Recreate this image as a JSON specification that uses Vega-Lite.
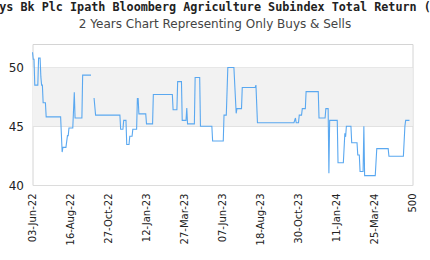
{
  "$schema": "https://vega.github.io/schema/vega-lite/v6.json",
  "width": 380,
  "height": 141,
  "autosize": {"type": "none"},
  "padding": {"left": 32.5, "top": 44, "right": 17.5, "bottom": 75},
  "background": "white",
  "title": {
    "text": "Barclays Bk Plc Ipath Bloomberg Agriculture Subindex Total Return (JJATF)",
    "subtitle": "2 Years Chart Representing Only Buys & Sells",
    "font": "DejaVu Sans Mono",
    "fontWeight": "bold",
    "fontSize": 11.75,
    "color": "#222",
    "subtitleFont": "DejaVu Sans",
    "subtitleFontSize": 12,
    "subtitleColor": "#444",
    "subtitlePadding": 5,
    "anchor": "middle",
    "frame": "group",
    "dx": -7.5,
    "offset": 14
  },
  "config": {
    "view": {"stroke": "#d4d4d4", "strokeWidth": 1},
    "axis": {"labelFont": "DejaVu Sans", "labelColor": "#222", "domain": false, "ticks": false}
  },
  "layer": [
    {
      "data": {"values": [{"lo": 45, "hi": 50}]},
      "mark": {"type": "rect", "fill": "#f2f2f2"},
      "encoding": {
        "y": {"field": "lo", "type": "quantitative", "scale": {"domain": [40, 52], "nice": false, "zero": false}},
        "y2": {"field": "hi"}
      }
    },
    {
      "data": {"values": [
        {"i": 0, "v": 51.3, "seg": 1}, {"i": 1, "v": 50.7, "seg": 1}, {"i": 2, "v": 50.7, "seg": 1}, {"i": 3, "v": 48.5, "seg": 1},
        {"i": 7, "v": 48.5, "seg": 1}, {"i": 8, "v": 50.8, "seg": 1}, {"i": 10, "v": 50.8, "seg": 1}, {"i": 11, "v": 49.2, "seg": 1},
        {"i": 12, "v": 48.5, "seg": 1}, {"i": 13, "v": 48.5, "seg": 1}, {"i": 14, "v": 47.0, "seg": 1}, {"i": 17, "v": 47.0, "seg": 1},
        {"i": 18, "v": 45.8, "seg": 1}, {"i": 37, "v": 45.8, "seg": 1}, {"i": 39, "v": 42.8, "seg": 1}, {"i": 40, "v": 43.2, "seg": 1},
        {"i": 44, "v": 43.2, "seg": 1}, {"i": 46, "v": 44.2, "seg": 1}, {"i": 47, "v": 44.2, "seg": 1}, {"i": 48, "v": 44.85, "seg": 1},
        {"i": 53, "v": 44.85, "seg": 1}, {"i": 55, "v": 47.9, "seg": 1}, {"i": 56, "v": 45.7, "seg": 1}, {"i": 65, "v": 45.7, "seg": 1},
        {"i": 66, "v": 49.35, "seg": 1}, {"i": 77, "v": 49.35, "seg": 1},
        {"i": 81, "v": 47.4, "seg": 2}, {"i": 83, "v": 45.95, "seg": 2}, {"i": 115, "v": 45.95, "seg": 2}, {"i": 116, "v": 44.75, "seg": 2},
        {"i": 119, "v": 44.75, "seg": 2}, {"i": 120, "v": 45.5, "seg": 2}, {"i": 123, "v": 45.5, "seg": 2}, {"i": 124, "v": 43.45, "seg": 2},
        {"i": 127, "v": 43.45, "seg": 2}, {"i": 128, "v": 44.15, "seg": 2}, {"i": 131, "v": 44.15, "seg": 2}, {"i": 132, "v": 44.75, "seg": 2},
        {"i": 137, "v": 44.75, "seg": 2}, {"i": 138, "v": 47.35, "seg": 2}, {"i": 139, "v": 47.35, "seg": 2}, {"i": 140, "v": 46.05, "seg": 2},
        {"i": 149, "v": 46.05, "seg": 2}, {"i": 150, "v": 45.2, "seg": 2}, {"i": 158, "v": 45.2, "seg": 2}, {"i": 159, "v": 47.7, "seg": 2},
        {"i": 184, "v": 47.7, "seg": 2}, {"i": 185, "v": 46.4, "seg": 2}, {"i": 190, "v": 46.4, "seg": 2}, {"i": 191, "v": 48.8, "seg": 2},
        {"i": 196, "v": 48.8, "seg": 2}, {"i": 197, "v": 45.5, "seg": 2}, {"i": 202, "v": 45.5, "seg": 2}, {"i": 203, "v": 46.55, "seg": 2},
        {"i": 204, "v": 45.2, "seg": 2}, {"i": 213, "v": 45.2, "seg": 2}, {"i": 214, "v": 49.15, "seg": 2}, {"i": 220, "v": 49.15, "seg": 2},
        {"i": 221, "v": 45.0, "seg": 2}, {"i": 236, "v": 45.0, "seg": 2}, {"i": 237, "v": 43.75, "seg": 2}, {"i": 251, "v": 43.75, "seg": 2},
        {"i": 252, "v": 45.95, "seg": 2}, {"i": 255, "v": 45.95, "seg": 2}, {"i": 257, "v": 50.0, "seg": 2}, {"i": 265, "v": 50.0, "seg": 2},
        {"i": 268, "v": 46.1, "seg": 2}, {"i": 269, "v": 46.5, "seg": 2}, {"i": 275, "v": 46.5, "seg": 2}, {"i": 276, "v": 48.3, "seg": 2},
        {"i": 293, "v": 48.3, "seg": 2}, {"i": 294, "v": 48.5, "seg": 2}, {"i": 296, "v": 45.3, "seg": 2}, {"i": 344, "v": 45.3, "seg": 2},
        {"i": 346, "v": 45.7, "seg": 2}, {"i": 347, "v": 45.3, "seg": 2}, {"i": 350, "v": 45.3, "seg": 2}, {"i": 351, "v": 45.95, "seg": 2},
        {"i": 354, "v": 45.95, "seg": 2}, {"i": 355, "v": 46.5, "seg": 2}, {"i": 359, "v": 46.5, "seg": 2}, {"i": 360, "v": 47.95, "seg": 2},
        {"i": 376, "v": 47.95, "seg": 2}, {"i": 377, "v": 45.7, "seg": 2}, {"i": 385, "v": 45.7, "seg": 2}, {"i": 386, "v": 46.5, "seg": 2},
        {"i": 389, "v": 46.5, "seg": 2}, {"i": 390, "v": 41.0, "seg": 2}, {"i": 391, "v": 45.5, "seg": 2}, {"i": 401, "v": 45.5, "seg": 2},
        {"i": 402, "v": 41.9, "seg": 2}, {"i": 409, "v": 41.9, "seg": 2}, {"i": 411, "v": 44.4, "seg": 2}, {"i": 412, "v": 44.1, "seg": 2},
        {"i": 413, "v": 45.0, "seg": 2}, {"i": 419, "v": 45.0, "seg": 2}, {"i": 420, "v": 43.6, "seg": 2}, {"i": 427, "v": 43.6, "seg": 2},
        {"i": 428, "v": 42.55, "seg": 2}, {"i": 430, "v": 42.55, "seg": 2}, {"i": 431, "v": 41.15, "seg": 2}, {"i": 435, "v": 41.15, "seg": 2},
        {"i": 436, "v": 45.0, "seg": 2}, {"i": 437, "v": 40.8, "seg": 2}, {"i": 451, "v": 40.8, "seg": 2}, {"i": 453, "v": 43.1, "seg": 2},
        {"i": 468, "v": 43.1, "seg": 2}, {"i": 469, "v": 42.45, "seg": 2}, {"i": 488, "v": 42.45, "seg": 2}, {"i": 490, "v": 45.0, "seg": 2},
        {"i": 491, "v": 45.5, "seg": 2}, {"i": 496, "v": 45.5, "seg": 2}
      ]},
      "mark": {"type": "line", "color": "#5aa8f0", "strokeWidth": 1.1},
      "encoding": {
        "x": {
          "field": "i", "type": "quantitative",
          "scale": {"domain": [0, 500], "nice": false, "zero": false},
          "axis": {
            "title": null, "grid": false,
            "values": [0, 50, 100, 150, 200, 250, 300, 350, 400, 450, 500],
            "labelExpr": "['03-Jun-22','16-Aug-22','27-Oct-22','12-Jan-23','27-Mar-23','07-Jun-23','18-Aug-23','30-Oct-23','11-Jan-24','25-Mar-24','500'][round(datum.value/50)]",
            "labelAngle": -90, "labelAlign": "right", "labelBaseline": "middle",
            "labelFontSize": 10, "labelPadding": 8, "labelFlush": false, "labelOverlap": false
          }
        },
        "y": {
          "field": "v", "type": "quantitative",
          "scale": {"domain": [40, 52], "nice": false, "zero": false},
          "axis": {
            "title": null, "values": [40, 45, 50], "grid": true, "gridColor": "#dcdcdc",
            "labelFontSize": 12, "labelPadding": 9
          }
        },
        "detail": {"field": "seg", "type": "nominal"}
      }
    }
  ]
}
